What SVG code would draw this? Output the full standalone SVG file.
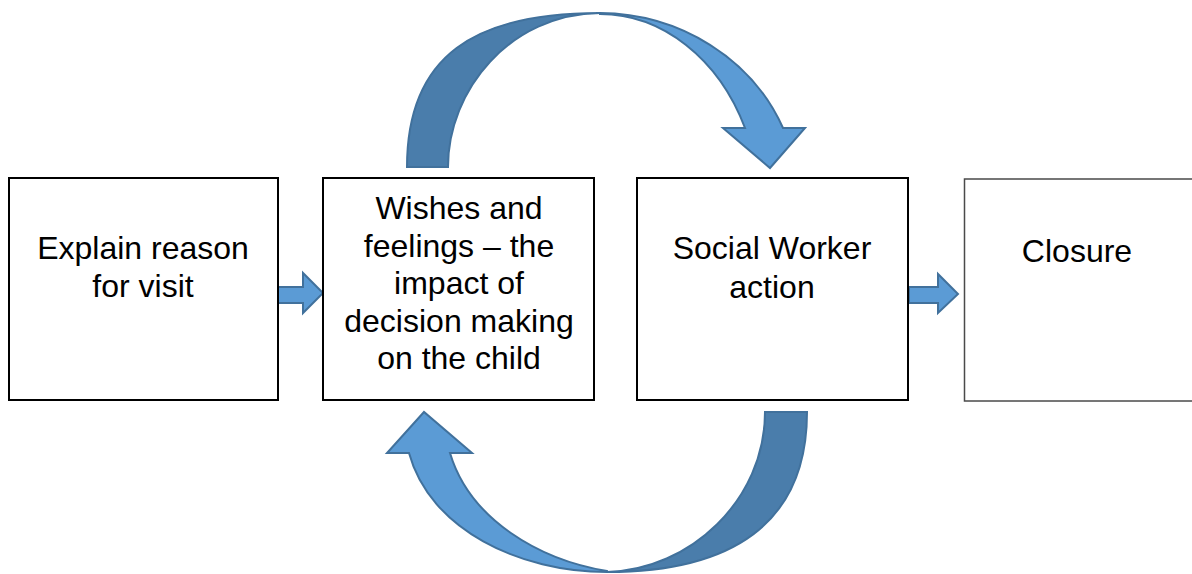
<svg xmlns="http://www.w3.org/2000/svg" width="1192" height="574" viewBox="0 0 1192 574">
<style>
.box{fill:#ffffff;stroke:#000000;stroke-width:2}
.box4{fill:#ffffff;stroke:#4a4a4a;stroke-width:1.5}
.lbl{font-family:"Liberation Sans",Arial,sans-serif;font-size:32px;fill:#000000;text-anchor:middle}
.light{fill:#5B9BD5;stroke:#41719C;stroke-width:2;stroke-linejoin:miter}
.dark{fill:#4A7DAB;stroke:#41719C;stroke-width:2;stroke-linejoin:miter}
</style>
<rect width="1192" height="574" fill="#ffffff"/>
<g id="connectors">
  <path class="light" d="M277,287 L303,287 L303,273 L323,293 L303,313 L303,303 L277,303 Z"/>
  <path class="light" d="M909,287 L938,287 L938,274 L958,294 L938,313 L938,303 L909,303 Z"/>
  <g id="top-arrow">
    <path class="light" d="M600,13 A200,187 0 0 1 783,128 L805,128 L770,168 L723,128 L745,128 A160,197 0 0 0 600,14 Z"/>
    <path class="dark" d="M407,167 C407,55 475,13 600,13 C510,14 448,90 448,167 Z"/>
  </g>
  <g id="bottom-arrow">
    <path class="light" d="M607,572 C520,572 430,530 409,453 L387,453 L424,412 L472,453 L450,453 C470,520 540,560 607,571 Z"/>
    <path class="dark" d="M807,412 C807,525 730,572 607,572 C690,570 765,500 765,412 Z"/>
  </g>
</g>
<g id="node-explain">
  <rect class="box" x="9" y="178" width="269" height="222"/>
  <text class="lbl" x="143" y="259">Explain reason</text>
  <text class="lbl" x="143" y="297">for visit</text>
</g>
<g id="node-wishes">
  <rect class="box" x="323" y="178" width="271" height="222"/>
  <text class="lbl" x="459" y="219">Wishes and</text>
  <text class="lbl" x="459" y="257">feelings – the</text>
  <text class="lbl" x="459" y="294">impact of</text>
  <text class="lbl" x="459" y="332">decision making</text>
  <text class="lbl" x="459" y="369">on the child</text>
</g>
<g id="node-social">
  <rect class="box" x="637" y="178" width="271" height="222"/>
  <text class="lbl" x="772" y="259">Social Worker</text>
  <text class="lbl" x="772" y="298">action</text>
</g>
<g id="node-closure">
  <rect class="box4" x="964.5" y="179" width="240" height="222"/>
  <text class="lbl" x="1077" y="262">Closure</text>
</g>
</svg>
